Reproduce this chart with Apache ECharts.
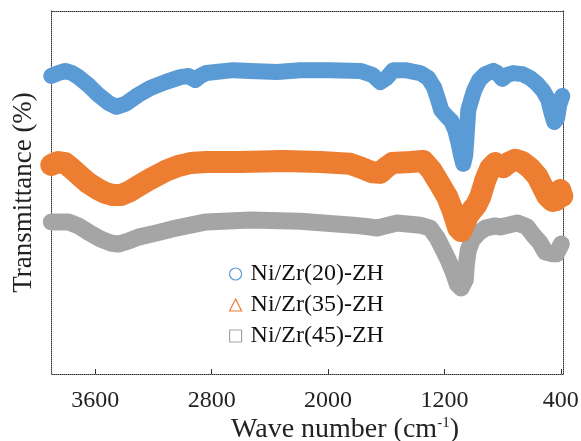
<!DOCTYPE html>
<html>
<head>
<meta charset="utf-8">
<script src="https://cdn.jsdelivr.net/npm/echarts@6/dist/echarts.min.js"></script>
<style>
  html, body { margin: 0; padding: 0; background: #fff; }
  #main { width: 581px; height: 441px; }
</style>
</head>
<body>
<div id="main"></div>
<script>
// wavenumber ticks and legend names
var tickValues = [400, 1200, 2000, 2800, 3600];
var seriesNames = ['Ni/Zr(20)-ZH', 'Ni/Zr(35)-ZH', 'Ni/Zr(45)-ZH'];

// Ni/Zr(20)-ZH
var wave20 = [3903, 3855, 3807, 3759, 3717, 3649, 3580, 3511, 3456, 3394, 3305, 3222, 3119, 3016, 2961, 2913, 2879, 2837,
  2652, 2535, 2349, 2192, 1985, 1779, 1696, 1641, 1600, 1552, 1470, 1367, 1311, 1270, 1243, 1222, 1188, 1153, 1126,
  1105, 1085, 1071, 1057, 1050, 1043, 1036, 1016, 995, 961, 919, 864, 837, 803, 768, 727, 665, 610, 562, 521, 486,
  466, 445, 425, 411, 390];
var trans20 = [82.1, 82.9, 83.5, 82.9, 81.8, 79.6, 76.9, 74.7, 73.6, 74.4, 76.9, 78.8, 80.4, 81.8, 82.1, 81.0, 82.1, 82.9,
  83.7, 83.5, 83.2, 83.7, 83.7, 83.5, 82.4, 80.4, 81.5, 83.7, 83.7, 82.9, 81.5, 78.8, 75.5, 72.7, 71.1, 69.7, 67.2,
  63.9, 60.1, 57.9, 60.3, 64.5, 68.6, 72.7, 75.5, 78.2, 81.0, 82.6, 83.5, 82.9, 81.3, 82.4, 82.9, 82.6, 81.5, 79.9, 78.0, 75.5,
  72.2, 69.4, 70.5, 74.1, 76.6];

// Ni/Zr(35)-ZH
var wave35 = [3903, 3855, 3807, 3765, 3704, 3649, 3587, 3532, 3477, 3422, 3360, 3305, 3222, 3119, 3030, 2947, 2837, 2604,
  2308, 2054, 1848, 1765, 1696, 1641, 1607, 1559, 1435, 1346, 1291, 1229, 1181, 1140, 1105, 1085, 1064, 1036, 981,
  954, 919, 885, 851, 796, 762, 713, 665, 610, 562, 528, 493, 459, 431, 404, 390];
var trans35 = [57.6, 58.4, 58.1, 56.7, 54.5, 52.6, 51.0, 49.9, 49.3, 49.3, 50.4, 51.8, 53.7, 55.9, 57.3, 58.1, 58.4, 58.4,
  58.7, 58.4, 57.9, 56.7, 55.6, 55.4, 56.7, 58.1, 58.4, 58.7, 56.2, 52.1, 48.8, 44.6, 40.2, 39.4, 41.3, 43.8, 46.6,
  48.8, 53.4, 56.7, 58.1, 57.0, 58.1, 59.0, 58.4, 56.7, 54.5, 51.8, 49.0, 47.7, 47.9, 50.7, 49.0];

// Ni/Zr(45)-ZH
var wave45 = [3903, 3786, 3717, 3649, 3566, 3497, 3442, 3374, 3305, 3188, 3078, 2947, 2837, 2535, 2192, 1827, 1710, 1662,
  1607, 1525, 1367, 1298, 1250, 1208, 1174, 1140, 1112, 1085, 1057, 1050, 1036, 1009, 968, 919, 851, 816, 699, 631,
  590, 542, 507, 452, 431, 397];
var trans45 = [41.9, 41.9, 40.8, 39.1, 37.2, 36.1, 35.8, 36.6, 37.7, 38.8, 39.9, 41.0, 41.9, 42.4, 42.1, 41.0, 40.5, 40.2,
  40.8, 41.6, 41.0, 40.2, 37.5, 34.2, 31.4, 28.1, 24.8, 23.7, 25.9, 30.0, 34.2, 36.9, 38.8, 40.2, 40.8, 40.5, 41.6, 40.5,
  38.3, 36.1, 33.6, 33.1, 33.1, 35.8];

var colors = ['#5b9bd5', '#ed7d31', '#a5a5a5'];
var icons = ['circle', 'triangle', 'rect'];
var widths = [16, 22, 17];

function pairs(w, t) {
  return w.map(function (v, i) { return [v, t[i]]; });
}
var allData = [pairs(wave20, trans20), pairs(wave35, trans35), pairs(wave45, trans45)];

var serif = 'Liberation Serif';
var frameLine = { show: true, onZero: false, lineStyle: { color: '#333', width: 1, type: 'dotted' } };

var myChart = echarts.init(document.getElementById('main'));

var option = {
  animation: false,
  textStyle: { fontFamily: serif },
  grid: { left: 51, right: 18, top: 11, bottom: 67, containLabel: false, outerBoundsMode: 'none' },
  legend: {
    orient: 'vertical',
    left: 224,
    top: 257,
    itemWidth: 12,
    itemHeight: 12,
    itemGap: 7,
    textStyle: { fontFamily: serif, fontSize: 24, color: '#111', padding: [0, 0, 0, 4] },
    data: seriesNames.map(function (n, i) {
      return {
        name: n,
        icon: icons[i],
        itemStyle: { color: '#fff', borderColor: colors[i], borderWidth: 1.2 },
        textStyle: { fontFamily: serif, fontSize: 24, color: '#111', padding: [0, 0, 0, 4] }
      };
    })
  },
  xAxis: [{
    type: 'value',
    inverse: true,
    min: 385,
    max: 3905,
    axisLine: frameLine,
    axisTick: { show: true, inside: true, length: 5, customValues: tickValues, lineStyle: { color: '#333' } },
    axisLabel: {
      customValues: tickValues, margin: 15, fontFamily: serif, fontSize: 24, color: '#222',
      formatter: function (v) { return String(v); }
    },
    splitLine: { show: false },
    name: '{gap|}{b|Wave number (cm}{sup|-1}{b|)}',
    nameLocation: 'middle',
    nameGap: 42,
    nameMoveOverlap: false,
    nameTextStyle: {
      fontFamily: serif, fontSize: 28, color: '#222',
      rich: {
        gap: { width: 76 },
        b: { fontFamily: serif, fontSize: 28, color: '#222' },
        sup: { fontFamily: serif, fontSize: 15, color: '#222', verticalAlign: 'bottom', padding: [0, 0, 13, 0] }
      }
    }
  }, {
    type: 'value',
    position: 'top',
    inverse: true,
    min: 385,
    max: 3905,
    axisLine: frameLine,
    axisTick: { show: false },
    axisLabel: { show: false },
    splitLine: { show: false }
  }],
  yAxis: [{
    type: 'value',
    min: 0,
    max: 100,
    axisLine: frameLine,
    axisTick: { show: false },
    axisLabel: { show: false },
    splitLine: { show: false },
    name: 'Transmittance (%)',
    nameLocation: 'middle',
    nameGap: 14,
    nameTextStyle: { fontFamily: serif, fontSize: 27, color: '#222' }
  }, {
    type: 'value',
    position: 'right',
    min: 0,
    max: 100,
    axisLine: frameLine,
    axisTick: { show: false },
    axisLabel: { show: false },
    splitLine: { show: false }
  }],
  series: seriesNames.map(function (n, i) {
    return {
      name: n,
      type: 'line',
      data: allData[i],
      symbol: icons[i],
      showSymbol: false,
      clip: false,
      z: 4 - i,
      itemStyle: { color: colors[i] },
      lineStyle: { color: colors[i], width: widths[i], cap: 'round', join: 'round' }
    };
  })
};

myChart.setOption(option);
</script>
</body>
</html>
